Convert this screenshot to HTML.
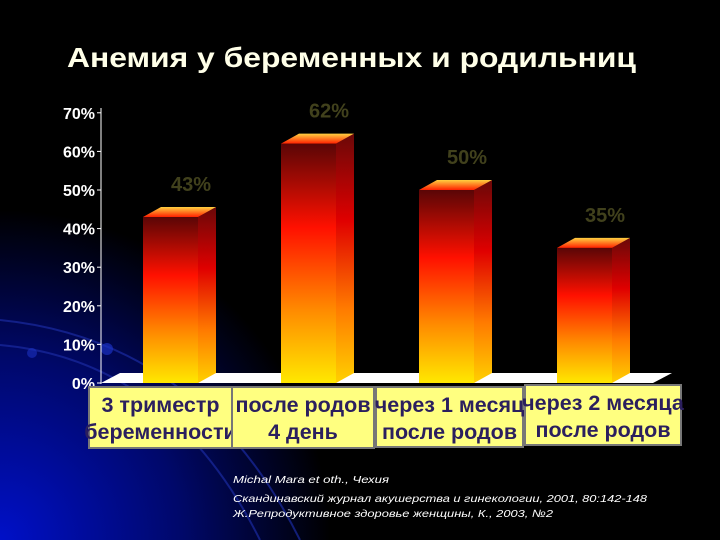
<!DOCTYPE html>
<html><head><meta charset="utf-8"><style>
html,body{margin:0;padding:0;background:#000;}
svg{display:block;}
</style></head><body>
<svg width="720" height="540" viewBox="0 0 720 540" xmlns="http://www.w3.org/2000/svg" font-family="'Liberation Sans', sans-serif">
<defs>
<radialGradient id="glow" cx="0" cy="540" r="330" gradientUnits="userSpaceOnUse">
<stop offset="0" stop-color="#0010c8"/><stop offset="0.55" stop-color="#00086a"/><stop offset="1" stop-color="#000"/>
</radialGradient>
<linearGradient id="front" x1="0" y1="0" x2="0" y2="1">
<stop offset="0" stop-color="#5a0606"/><stop offset="0.35" stop-color="#ff1000"/><stop offset="0.7" stop-color="#ff8c00"/><stop offset="1" stop-color="#ffe800"/>
</linearGradient>
<linearGradient id="side" x1="0" y1="0" x2="0" y2="1">
<stop offset="0" stop-color="#6a0808"/><stop offset="0.35" stop-color="#e00000"/><stop offset="0.7" stop-color="#ff7a00"/><stop offset="1" stop-color="#ffd000"/>
</linearGradient>
<linearGradient id="topf" x1="0" y1="1" x2="0" y2="0">
<stop offset="0" stop-color="#ff2000"/><stop offset="1" stop-color="#ffd040"/>
</linearGradient>
</defs>
<rect width="720" height="540" fill="#000"/>
<rect width="720" height="540" fill="url(#glow)"/>
<g fill="none" stroke="#1a2aa0" stroke-width="2" opacity="0.7">
<path d="M0 320 Q200 340 300 540"/><path d="M0 345 Q170 360 260 540"/>
</g>
<circle cx="107" cy="349" r="6" fill="#1a30c0" opacity="0.7"/>
<circle cx="32" cy="353" r="5" fill="#1a30c0" opacity="0.6"/>
<text x="67" y="67" fill="#ffffe8" font-size="28" font-weight="bold" stroke="none" textLength="569" lengthAdjust="spacingAndGlyphs">Анемия у беременных и родильниц</text>
<polygon points="101,383 653,383 672,373 120,373" fill="#fff"/>
<line x1="101" y1="108" x2="101" y2="384" stroke="#fff" stroke-width="1"/>
<g id="yticks"></g>
<g id="bars"></g>
<g id="cats"></g>
<g font-style="italic" fill="#fff" font-size="10.5">
<text x="233" y="483" textLength="156" lengthAdjust="spacingAndGlyphs">Michal Mara et oth.,  Чехия</text>
<text x="233" y="502" textLength="414" lengthAdjust="spacingAndGlyphs">Скандинавский журнал акушерства и гинекологии, 2001, 80:142-148</text>
<text x="233" y="517" textLength="320" lengthAdjust="spacingAndGlyphs">Ж.Репродуктивное здоровье женщины, К., 2003, №2</text>
</g>
</svg>
<script>
const categories1 = ["3 триместр","после родов","через 1 месяц","через 2 месяца"];
const categories2 = ["беременности","4 день","после родов","после родов"];
const values = [43, 62, 50, 35];
const valueLabels = ["43%","62%","50%","35%"];
const tickValues = [0,10,20,30,40,50,60,70];
const tickLabels = ["0%","10%","20%","30%","40%","50%","60%","70%"];
const NS="http://www.w3.org/2000/svg";
const y0=383, pxPer=3.86;
function yScale(v){return y0 - v*pxPer;}
function xScale(i){return 143 + i*138;}
function mk(tag,attrs,parent){const e=document.createElementNS(NS,tag);for(const k in attrs)e.setAttribute(k,attrs[k]);parent.appendChild(e);return e;}
const yt=document.getElementById('yticks');
tickValues.forEach((v,i)=>{
  const y=yScale(v);
  const l=mk('line',{x1:97,y1:y,x2:101,y2:y,stroke:'#fff'},yt);
  
  
  const t=mk('text',{x:95,y:y+6,fill:'#fff','font-size':16,'font-weight':'bold','text-anchor':'end'},yt);
  t.textContent=tickLabels[i];
  
  
});
const bg=document.getElementById('bars');
const W=55,DX=18,DY=10;
values.forEach((v,i)=>{
  const x=xScale(i), y=yScale(v);
  const g=mk('g',{},bg);
  
  
  mk('rect',{x:x,y:y,width:W,height:y0-y,fill:'url(#front)'},g);
  mk('polygon',{points:`${x+W},${y} ${x+W+DX},${y-DY} ${x+W+DX},${y0-DY} ${x+W},${y0}`,fill:'url(#side)'},g);
  mk('polygon',{points:`${x},${y} ${x+DX},${y-DY} ${x+W+DX},${y-DY} ${x+W},${y}`,fill:'url(#topf)'},g);
  const t=mk('text',{x:x+48,y:y-26,fill:'#41411c','font-size':20,'font-weight':'bold','text-anchor':'middle'},bg);
  t.textContent=valueLabels[i];
  
  
});
const boxes=[[89,387,143,61],[232,387,142,61],[376,387,147,60],[525,385,156,60]];
const cg=document.getElementById('cats');
categories1.forEach((c,i)=>{
  const b=boxes[i];
  const g=mk('g',{},cg);
  
  
  mk('rect',{x:b[0],y:b[1],width:b[2],height:b[3],fill:'#ffff80',stroke:'#777','stroke-width':2},g);
  const cx=b[0]+b[2]/2;
  const t1=mk('text',{x:cx,y:b[1]+25,fill:'#2b1f5e','font-size':21.5,'font-weight':'bold','text-anchor':'middle'},g);
  t1.textContent=c;
  const t2=mk('text',{x:cx,y:b[1]+52,fill:'#2b1f5e','font-size':21.5,'font-weight':'bold','text-anchor':'middle'},g);
  t2.textContent=categories2[i];
});
</script>
</body></html>
